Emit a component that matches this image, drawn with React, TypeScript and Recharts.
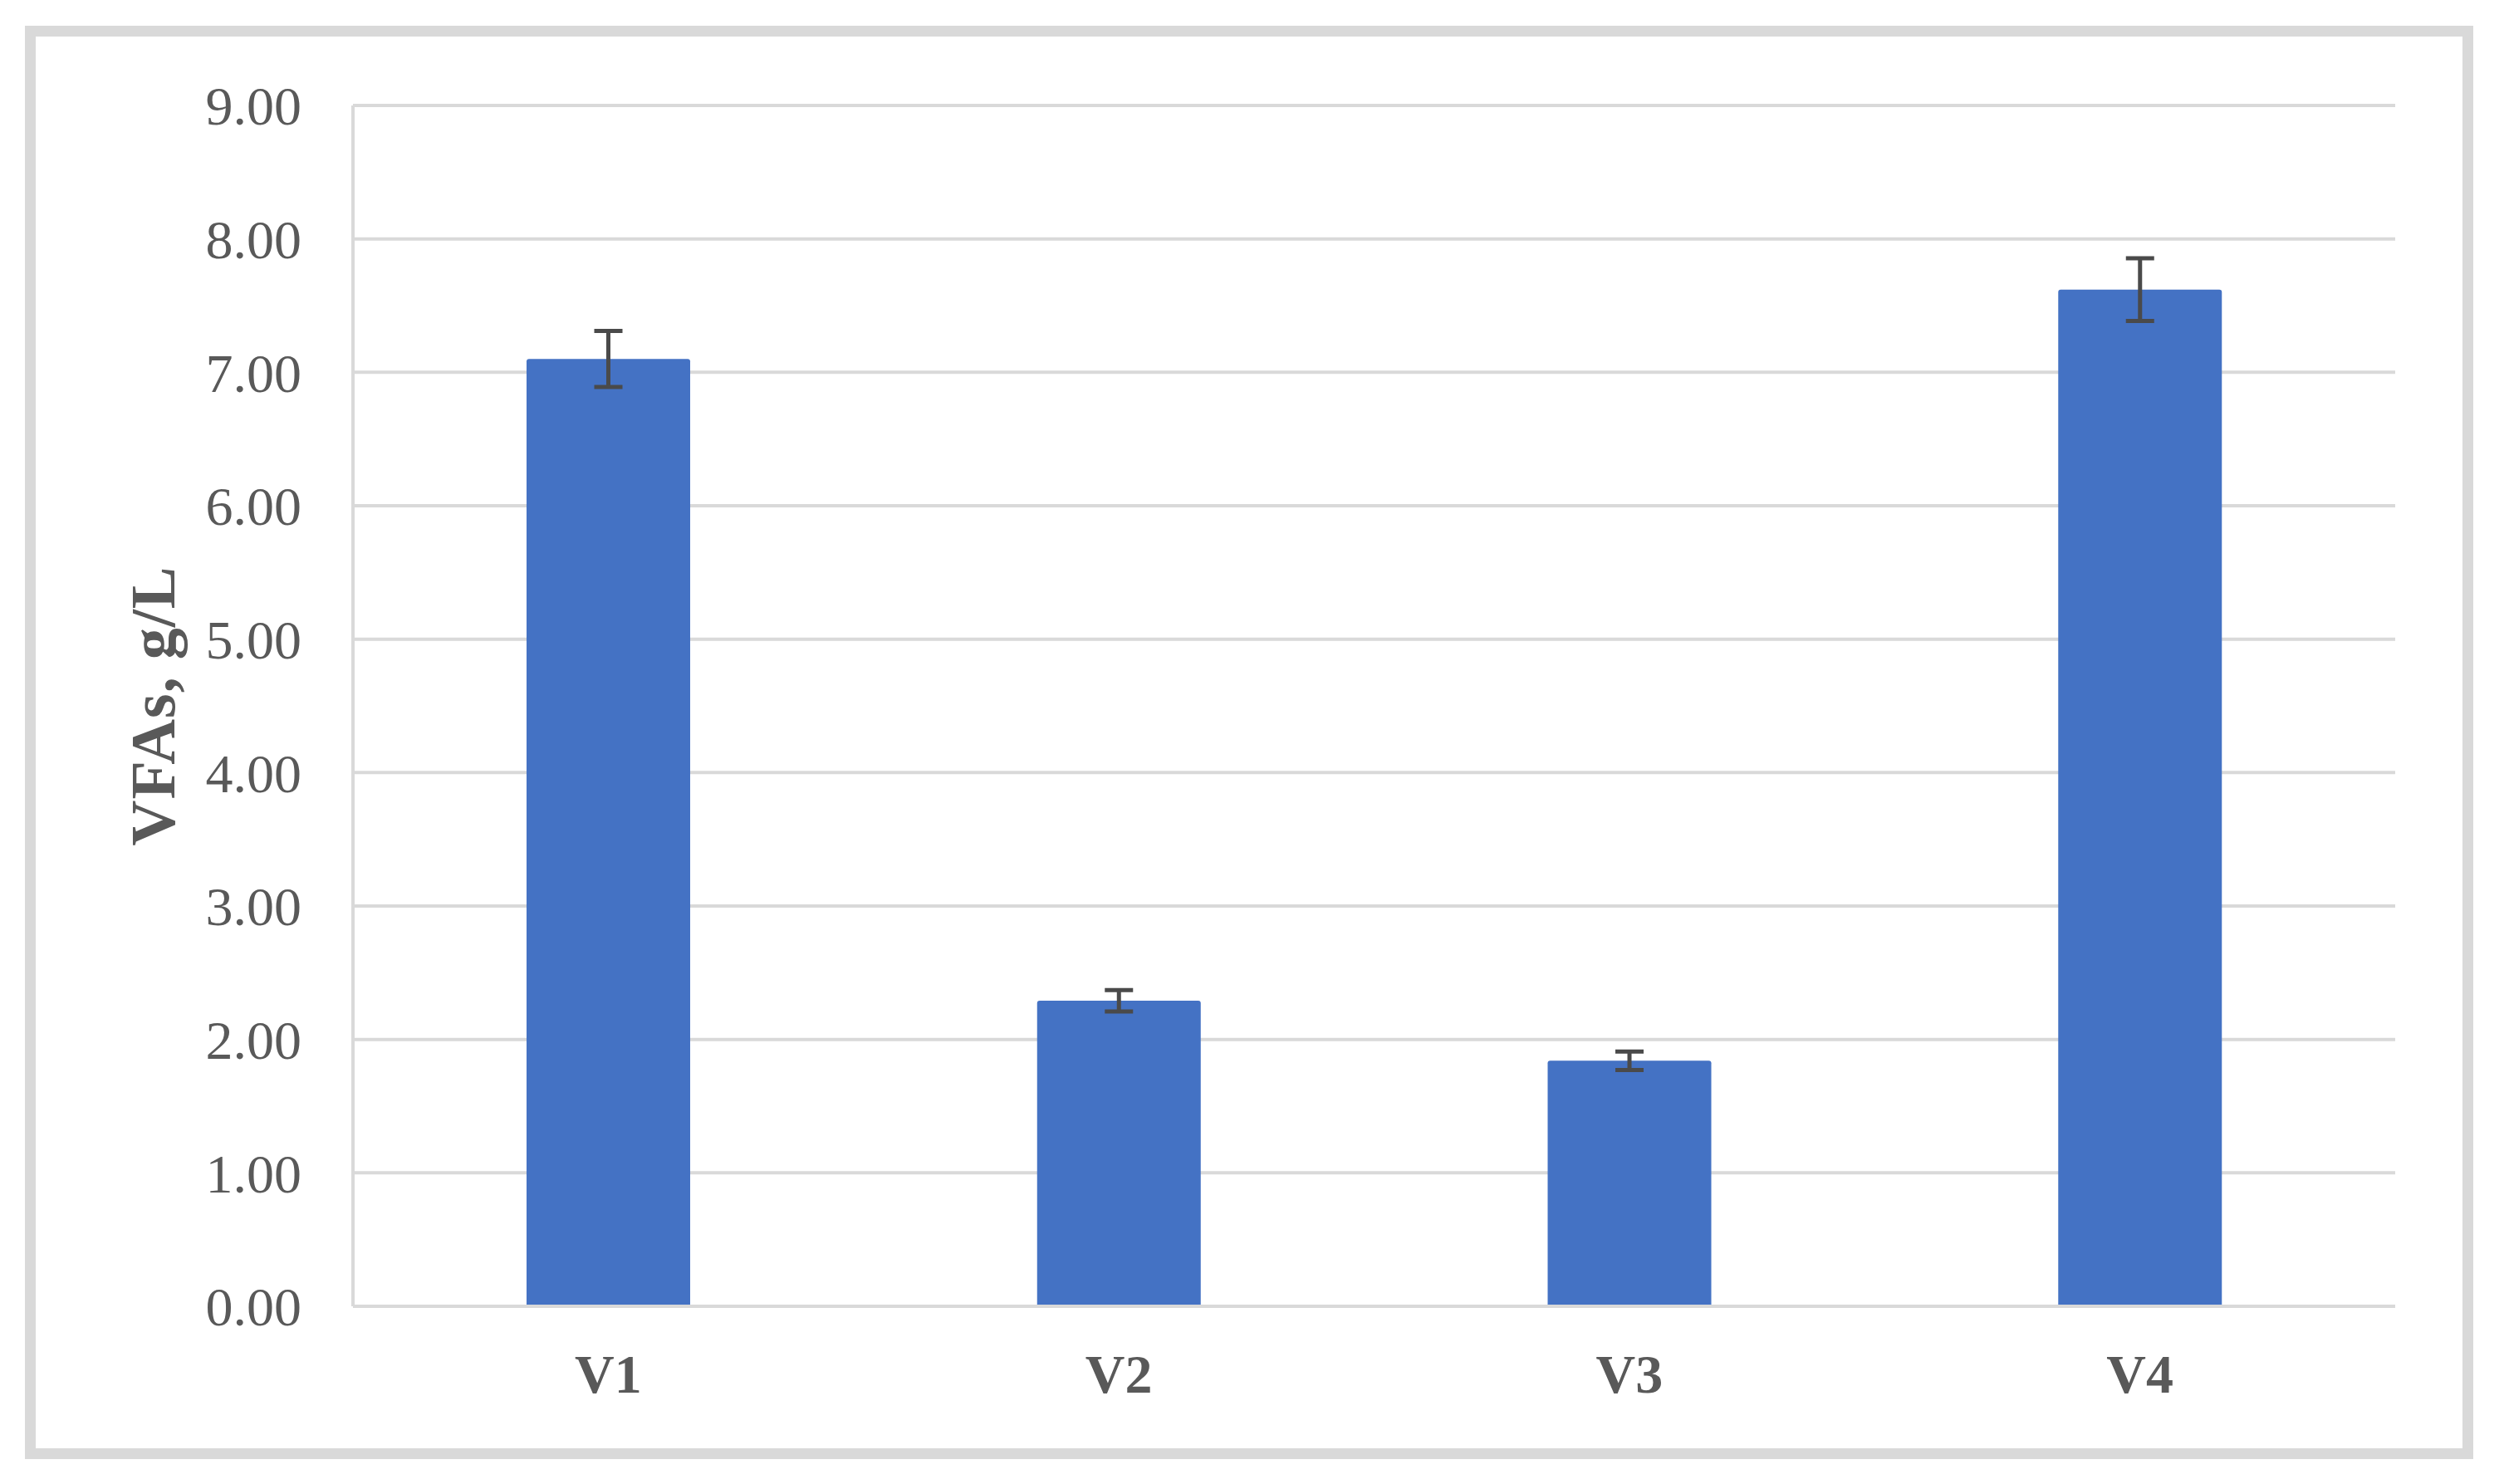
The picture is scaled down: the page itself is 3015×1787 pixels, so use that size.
import React from "react";
import { BarChart, Bar, XAxis, YAxis, CartesianGrid, ErrorBar, Label } from "recharts";

const variants = ["V1", "V2", "V3", "V4"];
const vfaValues = [7.1, 2.29, 1.84, 7.62];
const vfaErrors = [0.21, 0.08, 0.07, 0.235];
const yTicks = [0, 1, 2, 3, 4, 5, 6, 7, 8, 9];

const chartData = variants.map((name, i) => ({
  name,
  value: vfaValues[i],
  err: vfaErrors[i],
}));

const FONT = '"Liberation Serif", "Times New Roman", serif';
const GREY = "#d9d9d9";
const TEXT = "#595959";

const YTitle = (props: any) => {
  const vb = props.viewBox || {};
  const x = vb.x - 15;
  const y = vb.y + vb.height / 2;
  return (
    <text
      x={x}
      y={y}
      transform={`rotate(-90, ${x}, ${y})`}
      textAnchor="middle"
      fill={TEXT}
      fontFamily={FONT}
      fontWeight="bold"
      fontSize={76}
      letterSpacing={1}
    >
      VFAs, g/L
    </text>
  );
};

const App: React.FC = () => {
  return (
    <div style={{ position: "absolute", left: 0, top: 0, width: 3015, height: 1787, background: "#fff" }}>
      <div
        style={{
          position: "absolute",
          left: 30,
          top: 31,
          width: 2948,
          height: 1726,
          border: `13px solid ${GREY}`,
          boxSizing: "border-box",
        }}
      />
      <div style={{ position: "absolute", left: 0, top: 0 }}>
        <BarChart
          width={3015}
          height={1787}
          data={chartData}
          margin={{ top: 127, right: 131, bottom: 114, left: 225 }}
          barCategoryGap="34%"
        >
          <CartesianGrid vertical={false} stroke={GREY} strokeWidth={4} />
          <XAxis
            dataKey="name"
            height={100}
            axisLine={{ stroke: GREY, strokeWidth: 4 }}
            tickLine={false}
            tickSize={0}
            tickMargin={57}
            tick={{ fill: TEXT, fontFamily: FONT, fontWeight: "bold", fontSize: 66 }}
          />
          <YAxis
            width={200}
            domain={[0, 9]}
            ticks={yTicks}
            interval={0}
            tickFormatter={(v: number) => v.toFixed(2)}
            axisLine={{ stroke: GREY, strokeWidth: 4 }}
            tickLine={false}
            tickSize={0}
            tickMargin={62}
            tick={{ fill: TEXT, fontFamily: FONT, fontSize: 66 }}
          >
            <Label content={<YTitle />} />
          </YAxis>
          <Bar dataKey="value" fill="#4472c4" radius={[3, 3, 0, 0]} isAnimationActive={false}>
            <ErrorBar dataKey="err" width={17} stroke="#4a4a4a" strokeWidth={5} isAnimationActive={false} />
          </Bar>
        </BarChart>
      </div>
    </div>
  );
};

export default App;
